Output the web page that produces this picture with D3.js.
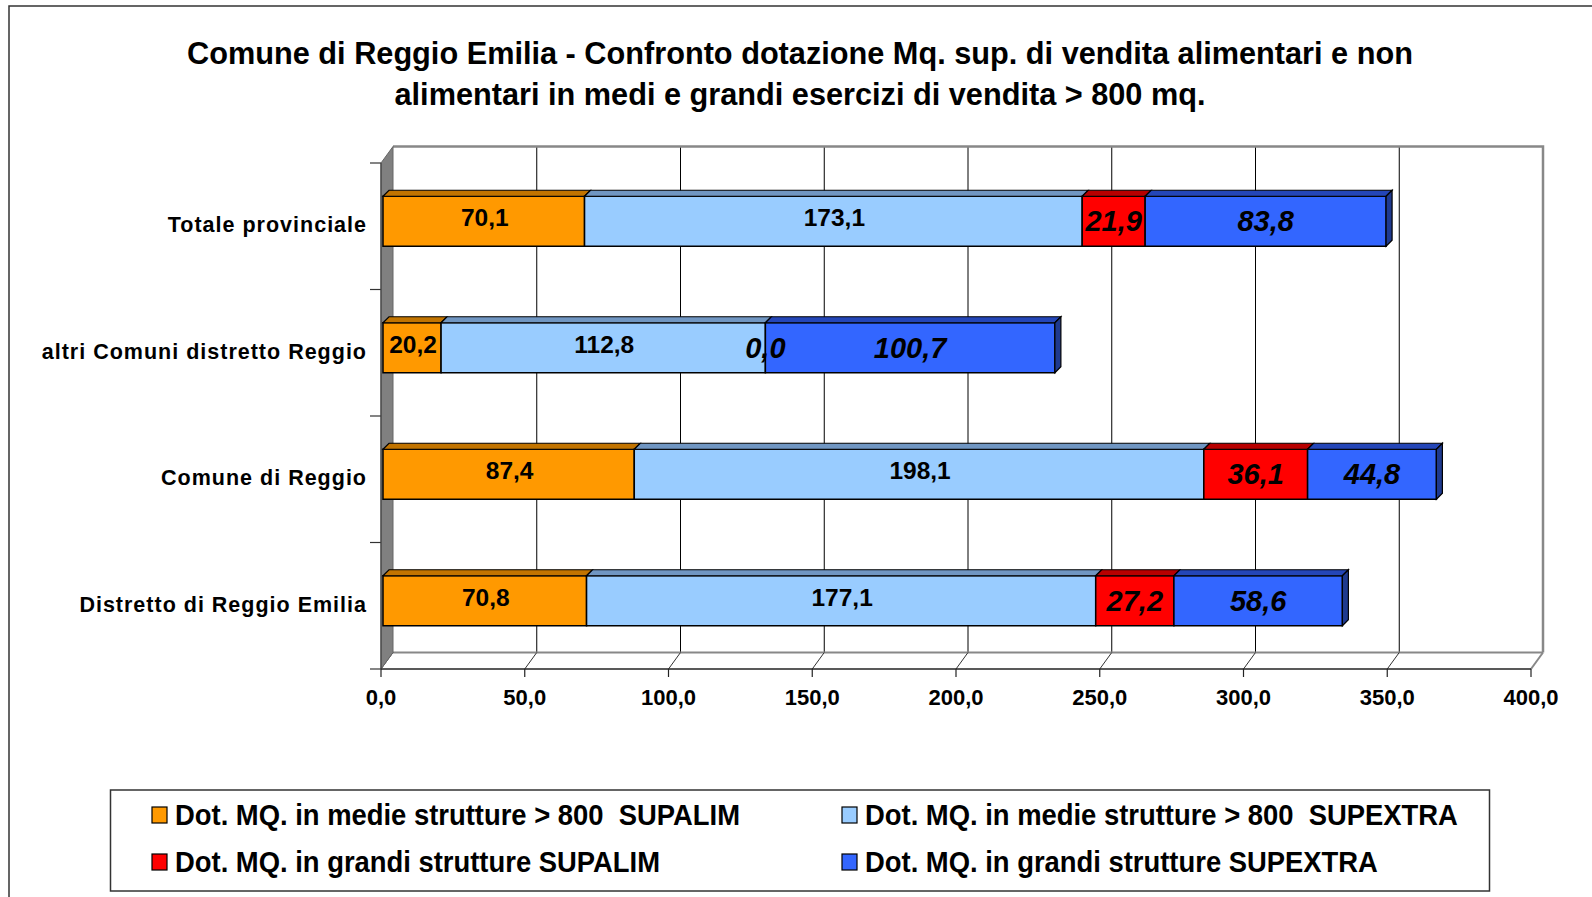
<!DOCTYPE html>
<html>
<head>
<meta charset="utf-8">
<script src="https://cdn.jsdelivr.net/npm/d3@7"></script>
<style>
  body { margin: 0; background: #fff; }
  svg { display: block; font-family: "Liberation Sans", Arial, sans-serif; }
</style>
</head>
<body>
<svg id="chart" width="1592" height="897"></svg>
<script>
// data
var categories = ["Totale provinciale", "altri Comuni distretto Reggio", "Comune di Reggio", "Distretto di Reggio Emilia"];
var medieAlim = [70.1, 20.2, 87.4, 70.8];
var medieExtra = [173.1, 112.8, 198.1, 177.1];
var grandiAlim = [21.9, 0.0, 36.1, 27.2];
var grandiExtra = [83.8, 100.7, 44.8, 58.6];
var seriesNames = [
  "Dot. MQ. in medie strutture > 800  SUPALIM",
  "Dot. MQ. in medie strutture > 800  SUPEXTRA",
  "Dot. MQ. in grandi strutture SUPALIM",
  "Dot. MQ. in grandi strutture SUPEXTRA"
];
var xTicks = [0, 50, 100, 150, 200, 250, 300, 350, 400];
var titleLines = [
  "Comune di Reggio Emilia - Confronto dotazione Mq. sup. di vendita alimentari e non",
  "alimentari in medi e grandi esercizi di vendita > 800 mq."
];

var series = [medieAlim, medieExtra, grandiAlim, grandiExtra];
var fills = ["#FF9900", "#99CCFF", "#FF0000", "#3366FF"];
var tops = ["#C27400", "#7096C2", "#B80000", "#2446B8"];
var endFace = "#1F3A8F";
var italic = [false, false, true, true];

var svg = d3.select("#chart");
var fmt = function(v) { return d3.format(".1f")(v).replace(".", ","); };

// 3d geometry
var wallDx = 12, wallDy = -16.5;
var barDx = 6, barDy = -6;
var barH = 50;

var x = d3.scaleLinear().domain([0, 400]).range([381, 1531]);
var y = d3.scaleBand().domain(categories).range([163, 669]);
var yTop = 163, yBot = 669;

// outer frame
svg.append("rect")
  .attr("x", 9).attr("y", 6).attr("width", 1620).attr("height", 920)
  .attr("fill", "#fff").attr("stroke", "#333").attr("stroke-width", 1.5);

// title
svg.selectAll("text.title").data(titleLines).enter().append("text")
  .attr("class", "title")
  .attr("x", 800).attr("y", function(d, i) { return 64 + i * 41; })
  .attr("text-anchor", "middle")
  .style("font-size", "30.7px").style("font-weight", "bold")
  .text(function(d) { return d; });

// back wall
svg.append("rect")
  .attr("x", x(0) + wallDx).attr("y", yTop + wallDy)
  .attr("width", x(400) - x(0)).attr("height", yBot - yTop)
  .attr("fill", "#fff");

svg.selectAll("line.grid").data(xTicks.slice(1, -1)).enter().append("line")
  .attr("class", "grid")
  .attr("x1", function(d) { return x(d) + wallDx; })
  .attr("x2", function(d) { return x(d) + wallDx; })
  .attr("y1", yTop + wallDy).attr("y2", yBot + wallDy)
  .attr("stroke", "#000").attr("stroke-width", 1);

// back wall border (top and right)
svg.append("path")
  .attr("d", "M" + (x(0) + wallDx) + "," + (yTop + wallDy) +
             "H" + (x(400) + wallDx) + "V" + (yBot + wallDy))
  .attr("fill", "none").attr("stroke", "#888").attr("stroke-width", 2.5);

// floor
svg.append("line")
  .attr("x1", x(0) + wallDx).attr("x2", x(400) + wallDx)
  .attr("y1", yBot + wallDy).attr("y2", yBot + wallDy)
  .attr("stroke", "#888").attr("stroke-width", 2);

svg.selectAll("line.floor").data(xTicks).enter().append("line")
  .attr("class", "floor")
  .attr("x1", function(d) { return x(d); })
  .attr("y1", yBot)
  .attr("x2", function(d) { return x(d) + wallDx; })
  .attr("y2", yBot + wallDy)
  .attr("stroke", function(d) { return d == 400 ? "#888" : "#333"; })
  .attr("stroke-width", function(d) { return d == 400 ? 2 : 1; });

// left wall
svg.append("polygon")
  .attr("points", [[x(0), yTop], [x(0) + wallDx, yTop + wallDy],
                   [x(0) + wallDx, yBot + wallDy], [x(0), yBot]].join(" "))
  .attr("fill", "#808080").attr("stroke", "#666").attr("stroke-width", 1);

// x axis
svg.append("line")
  .attr("x1", x(0)).attr("x2", x(400)).attr("y1", yBot).attr("y2", yBot)
  .attr("stroke", "#222").attr("stroke-width", 1.5);

svg.selectAll("line.xtick").data(xTicks).enter().append("line")
  .attr("class", "xtick")
  .attr("x1", function(d) { return x(d); }).attr("x2", function(d) { return x(d); })
  .attr("y1", yBot).attr("y2", yBot + 8)
  .attr("stroke", "#222").attr("stroke-width", 1.2);

svg.selectAll("text.xlab").data(xTicks).enter().append("text")
  .attr("class", "xlab")
  .attr("x", function(d) { return x(d); }).attr("y", yBot + 36)
  .attr("text-anchor", "middle")
  .style("font-size", "22px").style("font-weight", "bold")
  .text(fmt);

// y axis ticks and labels
var yTickPos = categories.map(function(c) { return y(c); }).concat([yBot]);
svg.selectAll("line.ytick").data(yTickPos).enter().append("line")
  .attr("class", "ytick")
  .attr("x1", x(0) - 11).attr("x2", x(0))
  .attr("y1", function(d) { return d; }).attr("y2", function(d) { return d; })
  .attr("stroke", "#333").attr("stroke-width", 1.2);

svg.append("line")
  .attr("x1", x(0)).attr("x2", x(0)).attr("y1", yTop).attr("y2", yBot)
  .attr("stroke", "#444").attr("stroke-width", 1.2);

svg.selectAll("text.ylab").data(categories).enter().append("text")
  .attr("class", "ylab")
  .attr("x", 367)
  .attr("y", function(d) { return y(d) + y.bandwidth() / 2 + 6; })
  .attr("text-anchor", "end")
  .style("font-size", "21.5px").style("font-weight", "bold")
  .style("letter-spacing", "1px")
  .text(function(d) { return d; });

// stacked 3d bars
categories.forEach(function(cat, i) {
  var top = y(cat) + (y.bandwidth() - barH) / 2 - 5;
  var g = svg.append("g");
  var start = 0;
  var segs = [];
  series.forEach(function(s, k) {
    segs.push({k: k, v: s[i], x0: x(start) + 2, x1: x(start + s[i]) + 2});
    start += s[i];
  });

  segs.forEach(function(d) {
    if (d.v <= 0) return;
    g.append("rect")
      .attr("x", d.x0).attr("y", top)
      .attr("width", d.x1 - d.x0).attr("height", barH)
      .attr("fill", fills[d.k]).attr("stroke", "#000").attr("stroke-width", 1.5);
    g.append("polygon")
      .attr("points", [[d.x0, top], [d.x0 + barDx, top + barDy],
                       [d.x1 + barDx, top + barDy], [d.x1, top]].join(" "))
      .attr("fill", tops[d.k]).attr("stroke", "#000").attr("stroke-width", 1.2);
  });

  var last = segs[segs.length - 1];
  g.append("polygon")
    .attr("points", [[last.x1, top], [last.x1 + barDx, top + barDy],
                     [last.x1 + barDx, top + barH + barDy], [last.x1, top + barH]].join(" "))
    .attr("fill", endFace).attr("stroke", "#000").attr("stroke-width", 1.2);

  segs.forEach(function(d) {
    var it = italic[d.k];
    g.append("text")
      .attr("x", (d.x0 + d.x1) / 2 + (it ? 0 : 1))
      .attr("y", top + barH / 2 + (it ? 10 : 5))
      .attr("text-anchor", "middle")
      .style("font-size", it ? "29px" : "24.5px")
      .style("font-weight", "bold")
      .style("font-style", it ? "italic" : "normal")
      .text(fmt(d.v));
  });
});

// legend
svg.append("rect")
  .attr("x", 110.5).attr("y", 790).attr("width", 1379).attr("height", 101)
  .attr("fill", "#fff").attr("stroke", "#333").attr("stroke-width", 1.5);

var legPos = [[152, 815], [842, 815], [152, 862], [842, 862]];
seriesNames.forEach(function(name, k) {
  var p = legPos[k];
  svg.append("rect")
    .attr("x", p[0]).attr("y", p[1] - 8).attr("width", 15).attr("height", 16)
    .attr("fill", fills[k]).attr("stroke", "#000").attr("stroke-width", 1.2);
  svg.append("text")
    .attr("transform", "translate(" + (p[0] + 23) + "," + (p[1] + 10) + ") scale(0.945,1)")
    .attr("xml:space", "preserve")
    .style("white-space", "pre")
    .style("font-size", "29px").style("font-weight", "bold")
    .text(name);
});
</script>
</body>
</html>
